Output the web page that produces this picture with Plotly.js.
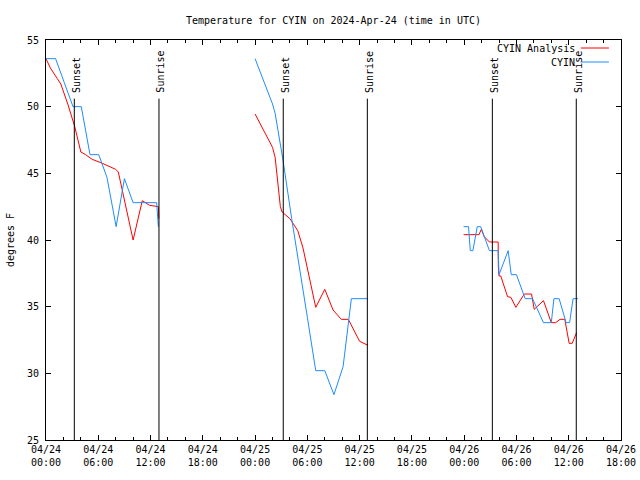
<!DOCTYPE html>
<html>
<head>
<meta charset="utf-8">
<script src="https://cdn.plot.ly/plotly-3.0.1.min.js"></script>
<style>html,body{margin:0;padding:0;background:#fff}#chart{width:640px;height:480px}</style>
</head>
<body>
<div id="chart"></div>
<script>
// Hours since 2024-04-24 00:00 UTC (null = gap)
const obsHours = [0, 1.1, 2.1, 3.1, 4.05, 5.05, 6.05, 7.0, 8.05, 9.0, 10.0, 11.0, 12.0, 12.7, 12.9,
  18,
  24.0, 25.0, 26.0, 26.3, 27.2, 28.2, 29.0, 30.0, 30.96, 32.0, 33.05, 34.1, 35.05, 36.0, 36.96,
  42,
  47.93, 48.5, 48.7, 49.0, 49.5, 49.9, 50.9, 51.9, 52.0, 53.05, 53.4, 54.0, 55.0, 55.85, 57.1, 58.0, 58.3, 58.9, 59.7, 60.1, 60.5, 61.05];
const obsTemps = [53.6, 53.6, 51.8, 50.0, 50.0, 46.4, 46.4, 44.7, 41.0, 44.6, 42.8, 42.8, 42.8, 42.8, 41.0,
  null,
  53.6, 51.9, 50.2, 49.5, 46.0, 41.6, 38.4, 34.2, 30.2, 30.2, 28.4, 30.5, 35.6, 35.6, 35.6,
  null,
  41.0, 41.0, 39.2, 39.2, 41.0, 41.0, 39.2, 39.2, 37.4, 39.2, 37.4, 37.4, 35.6, 35.6, 33.8, 33.8, 35.6, 35.6, 33.8, 33.8, 35.6, 35.6];

const anaHours = [0, 0.5, 1.3, 1.7, 2.5, 3.3, 4.0, 4.55, 5.3, 6.3, 8.0, 8.3, 10.0, 11.05, 11.9, 12.7, 12.9, 12.95,
  18,
  24.0, 25.0, 26.0, 26.3, 26.65, 26.9, 27.1, 28.0, 28.9, 29.5, 30.96, 32.0, 32.95, 33.9, 34.7, 36.0, 36.96,
  42,
  47.93, 49.7, 49.97, 50.3, 50.9, 51.9, 51.92, 52.0, 52.2, 52.98, 53.36, 53.93, 54.9, 55.73, 56.04, 57.1, 58.0, 58.5, 59.0, 59.55, 60.05, 60.4, 60.9];
const anaTemps = [53.6, 52.9, 52.1, 51.7, 50.2, 48.5, 46.6, 46.4, 46.05, 45.8, 45.3, 45.1, 40.0, 42.95, 42.6, 42.5, 42.5, 41.6,
  null,
  49.45, 48.2, 46.95, 46.2, 44.2, 42.5, 42.1, 41.6, 40.7, 39.4, 34.95, 36.3, 34.75, 34.05, 34.05, 32.4, 32.1,
  null,
  40.4, 40.4, 40.8, 40.25, 39.85, 39.85, 38.0, 37.3, 37.3, 35.75, 35.7, 34.95, 35.95, 35.95, 34.8, 35.45, 33.8, 33.8, 34.05, 34.05, 32.25, 32.25, 33.05];

const sunTimes = ["2024-04-24 03:15", "2024-04-24 12:58", "2024-04-25 03:14", "2024-04-25 12:53", "2024-04-26 03:14", "2024-04-26 12:52"];
const sunLabels = ["Sunset", "Sunrise", "Sunset", "Sunrise", "Sunset", "Sunrise"];
const seriesNames = ["CYIN Analysis", "CYIN"];
const seriesColors = ["#ff0000", "#1e8cff"];

const base = Date.UTC(2024, 3, 24, 0, 0);
function toDate(h) {
  const d = new Date(base + h * 3600000);
  const p = n => String(n).padStart(2, "0");
  return d.getUTCFullYear() + "-" + p(d.getUTCMonth() + 1) + "-" + p(d.getUTCDate()) + " " + p(d.getUTCHours()) + ":" + p(d.getUTCMinutes()) + ":" + p(d.getUTCSeconds());
}

const FONT = "DejaVu Sans Mono, monospace";
const traces = [
  {x: anaHours.map(toDate), y: anaTemps, mode: "lines", name: seriesNames[0], line: {color: seriesColors[0], width: 1}, connectgaps: false, showlegend: false},
  {x: obsHours.map(toDate), y: obsTemps, mode: "lines", name: seriesNames[1], line: {color: seriesColors[1], width: 1}, connectgaps: false, showlegend: false}
];

const shapes = [];
const annotations = [];
sunTimes.forEach((t, i) => {
  shapes.push({type: "line", xref: "x", yref: "y", x0: t, x1: t, y0: 25, y1: 50.6, line: {color: "#000", width: 1}});
  annotations.push({xref: "x", yref: "y", x: t, y: 50.6, text: sunLabels[i], showarrow: false, textangle: -90,
    xanchor: "center", yanchor: "bottom", xshift: 2, yshift: 4, font: {family: FONT, size: 10, color: "#000"}});
});
// legend (gnuplot style: text then line sample)
const legY = [0.98, 0.945];
seriesNames.forEach((n, i) => {
  annotations.push({xref: "paper", yref: "paper", x: 0.9235, y: legY[i], text: n, showarrow: false,
    xanchor: "right", yanchor: "middle", font: {family: FONT, size: 10, color: "#000"}});
  shapes.push({type: "line", xref: "paper", yref: "paper", x0: 0.930, x1: 0.979, y0: legY[i], y1: legY[i], line: {color: seriesColors[i], width: 1}});
});

const layout = {
  width: 640, height: 480,
  margin: {l: 46, r: 19, t: 40, b: 40},
  paper_bgcolor: "#fff", plot_bgcolor: "#fff",
  font: {family: FONT, size: 10, color: "#000"},
  title: {text: "Temperature for CYIN on 2024-Apr-24 (time in UTC)", xref: "paper", x: 0.5, xanchor: "center", y: 0.958, yanchor: "middle", font: {family: FONT, size: 10}},
  xaxis: {
    type: "date", range: ["2024-04-24 00:00", "2024-04-26 18:00"],
    tick0: "2024-04-24 00:00", dtick: 21600000, tickformat: "%m/%d<br>%H:%M",
    ticks: "inside", ticklen: 5, tickcolor: "#000", mirror: "allticks",
    showline: true, linecolor: "#000", linewidth: 1, showgrid: false, zeroline: false,
    minor: {dtick: 7200000, ticks: "inside", ticklen: 3, tickcolor: "#000", showgrid: false},
    tickfont: {family: FONT, size: 10}
  },
  yaxis: {
    range: [25, 55], dtick: 5, tick0: 25,
    ticks: "inside", ticklen: 5, tickcolor: "#000", mirror: "allticks",
    showline: true, linecolor: "#000", linewidth: 1, showgrid: false, zeroline: false,
    tickfont: {family: FONT, size: 10}, ticklabelstandoff: 4,
    title: {text: "degrees F", font: {family: FONT, size: 10}, standoff: 10}
  },
  shapes: shapes,
  annotations: annotations,
  showlegend: false
};

Plotly.newPlot("chart", traces, layout, {displayModeBar: false, staticPlot: true});
</script>
</body>
</html>
